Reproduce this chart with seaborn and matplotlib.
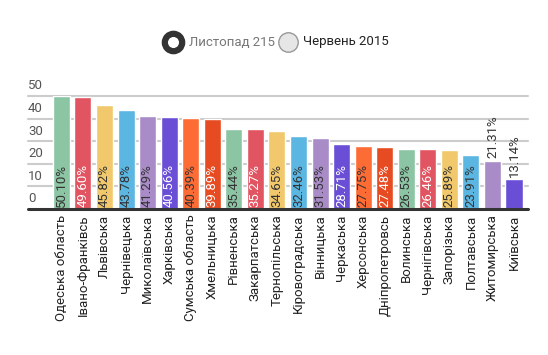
import matplotlib
matplotlib.use("Agg")
import matplotlib.pyplot as plt
import seaborn as sns
import pandas as pd
from matplotlib.lines import Line2D

# data
regions = ["Одеська область", "Івано-Франківсь", "Львівська", "Чернівецька",
           "Миколаївська", "Харківська", "Сумська область", "Хмельницька",
           "Рівненська", "Закарпатська", "Тернопільська", "Кіровоградська",
           "Вінницька", "Черкаська", "Херсонська", "Дніпропетровсь",
           "Волинська", "Чернігівська", "Запорізька", "Полтавська",
           "Житомирська", "Київська"]
values = [50.10, 49.60, 45.82, 43.78, 41.29, 40.56, 40.39, 39.89, 35.44, 35.27,
          34.65, 32.46, 31.53, 28.71, 27.75, 27.48, 26.53, 26.46, 25.89, 23.91,
          21.31, 13.14]
y_ticks = [0, 10, 20, 30, 40, 50]
series_names = ["Листопад 215", "Червень 2015"]

palette = ["#8cc5a3", "#e15462", "#f1c96c", "#5cb6e2", "#a98cc7", "#6a4fd6",
           "#fe6c35", "#e64b22"]
dark_text = {"#8cc5a3", "#f1c96c", "#5cb6e2", "#a98cc7", "#fe6c35"}
colors = [palette[i % len(palette)] for i in range(len(values))]

df = pd.DataFrame({"region": regions, "value": values})

sns.set_style("white")
plt.rcParams["font.family"] = ["Roboto", "DejaVu Sans"]

W, H = 548, 355
fig = plt.figure(figsize=(W / 100, H / 100), dpi=100)
ax = fig.add_axes([28 / W, 1 - 209 / H, 500 / W, 113 / H])

sns.barplot(data=df, x="region", y="value", hue="region", palette=colors,
            legend=False, width=0.79, saturation=1, ax=ax)

ax.set_xlim(-1.55, 21.65)
ax.set_ylim(0, 50)
for s in ax.spines.values():
    s.set_visible(False)

for t in y_ticks[1:]:
    ax.axhline(t, color="#cccccc", lw=1.5, zorder=0, clip_on=False)
ax.axhline(0, color="#333333", lw=2.2, zorder=3, clip_on=False)

ax.set_yticks([])
for t in y_ticks:
    ax.text(0.0, t + 1.6, str(t), transform=ax.get_yaxis_transform(),
            ha="left", va="bottom", fontsize=9.5, color="#555555")

ax.set_xlabel("")
ax.set_ylabel("")
ax.set_xticks(range(len(regions)))
ax.set_xticklabels(regions, rotation=90, fontsize=9.5, color="#222222",
                   va="top", ha="center")
ax.tick_params(axis="x", length=0, pad=4)

for i, v in enumerate(values):
    label = f"{v:.2f}%"
    if v < 22:
        ax.text(i, v + 1.2, label, rotation=90, ha="center", va="bottom",
                fontsize=9.5, color="#333333", clip_on=False)
    else:
        c = "#333333" if colors[i] in dark_text else "white"
        ax.text(i, 1.0, label, rotation=90, ha="center", va="bottom",
                fontsize=9.5, color=c)

# legend at top, placed by hand
ly = 1 - 42 / H
fig.add_artist(Line2D([173 / W], [ly], marker="o", ls="", markersize=12.5,
                      markerfacecolor="white", markeredgecolor="#333333",
                      markeredgewidth=4.5))
fig.text(189 / W, ly, series_names[0], ha="left", va="center",
         fontsize=9.5, color="#777777")
fig.add_artist(Line2D([288 / W], [ly], marker="o", ls="", markersize=14,
                      markerfacecolor="#e6e6e6", markeredgecolor="#999999",
                      markeredgewidth=1))
fig.text(303 / W, ly, series_names[1], ha="left", va="center",
         fontsize=9.5, color="#222222")

fig.savefig("out.png", dpi=100)
